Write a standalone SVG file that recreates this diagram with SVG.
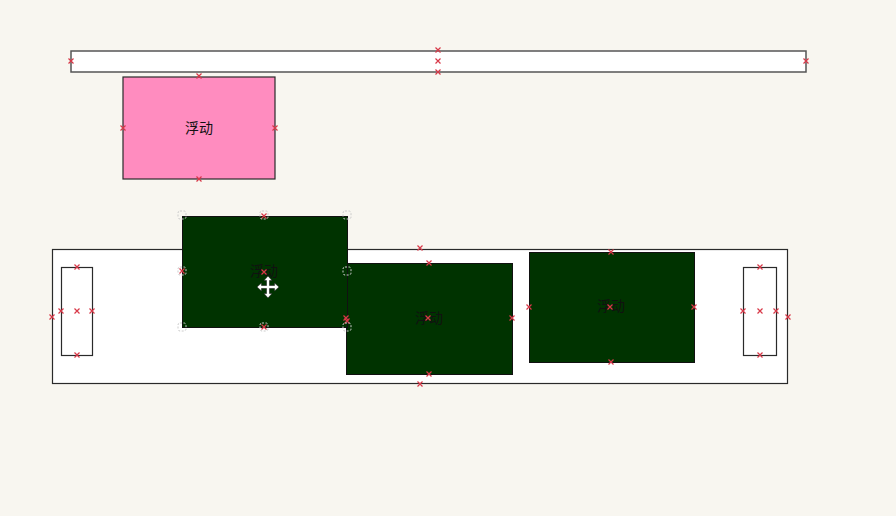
<svg xmlns="http://www.w3.org/2000/svg" width="896" height="516" viewBox="0 0 896 516">
<defs>
<style>
.bar{fill:#ffffff;stroke:#555555;stroke-width:1.5}
.frame{fill:#ffffff;stroke:#2a2a2a;stroke-width:1.2}
.pink{fill:#ff8cbf;stroke:#2a2a2a;stroke-width:1.2}
.green{fill:#003300;stroke:#111111;stroke-width:1}
.lbl{font-family:"Noto Sans CJK SC","Noto Sans",sans-serif;font-size:14px;fill:#111111;text-anchor:middle;dominant-baseline:central}
.hdl{fill:none;stroke:#cccccc;stroke-width:1;stroke-dasharray:2 1.5}
.mk{stroke:#d83848;stroke-width:1.2;fill:none}
</style>
<path id="x" d="M-2.5,-2.5L2.5,2.5M-2.5,2.5L2.5,-2.5" class="mk"/>
<rect id="h" x="-4" y="-4" width="8" height="8" rx="2" class="hdl"/>
</defs>
<rect width="896" height="516" fill="#f8f6f0"/>
<g id="topbar">
<rect x="71" y="51" width="735" height="21" class="bar"/>
</g>
<g id="pink">
<rect x="123" y="77" width="152" height="102" class="pink"/>
<text x="199" y="127" class="lbl">浮动</text>
</g>
<g id="container">
<rect x="52.5" y="249.5" width="735" height="134" class="frame"/>
</g>
<g id="leftslot">
<rect x="61.5" y="267.5" width="31" height="88" class="frame"/>
</g>
<g id="rightslot">
<rect x="743.5" y="267.5" width="33" height="88" class="frame"/>
</g>
<g id="box3">
<rect x="529.5" y="252.5" width="165" height="110" class="green"/>
<text x="611" y="305" class="lbl">浮动</text>
</g>
<g id="box2">
<rect x="346.5" y="263.5" width="166" height="111" class="green"/>
<text x="429" y="317" class="lbl">浮动</text>
</g>
<g id="box1">
<rect x="182.5" y="216.5" width="165" height="111" class="green"/>
<text x="264" y="270" class="lbl">浮动</text>
</g>
<g id="markers">
<use href="#x" x="71" y="61"/><use href="#x" x="806" y="61"/>
<use href="#x" x="438" y="50"/><use href="#x" x="438" y="61"/><use href="#x" x="438" y="72"/>
<use href="#x" x="199" y="76"/><use href="#x" x="199" y="179"/><use href="#x" x="123" y="128"/><use href="#x" x="275" y="128"/>
<use href="#x" x="420" y="248"/><use href="#x" x="420" y="384"/><use href="#x" x="52" y="317"/><use href="#x" x="788" y="317"/>
<use href="#x" x="77" y="267"/><use href="#x" x="77" y="355"/><use href="#x" x="61" y="311"/><use href="#x" x="77" y="311"/><use href="#x" x="92" y="311"/>
<use href="#x" x="760" y="267"/><use href="#x" x="760" y="355"/><use href="#x" x="743" y="311"/><use href="#x" x="760" y="311"/><use href="#x" x="776" y="311"/>
<use href="#x" x="429" y="263"/><use href="#x" x="429" y="374"/><use href="#x" x="346" y="318"/><use href="#x" x="512" y="318"/><use href="#x" x="428" y="318"/>
<use href="#x" x="611" y="252"/><use href="#x" x="611" y="362"/><use href="#x" x="529" y="307"/><use href="#x" x="694" y="307"/><use href="#x" x="610" y="307"/>
<use href="#x" x="264" y="216"/><use href="#x" x="264" y="327"/><use href="#x" x="182" y="271"/><use href="#x" x="264" y="272"/><use href="#x" x="347" y="321"/>
</g>
<g id="selection">
<use href="#h" x="182" y="215"/><use href="#h" x="264" y="215"/><use href="#h" x="347" y="215"/>
<use href="#h" x="182" y="271"/><use href="#h" x="347" y="271"/>
<use href="#h" x="182" y="327"/><use href="#h" x="264" y="327"/><use href="#h" x="347" y="327"/>
</g>
<g id="cursor" transform="translate(268,287)">
<path d="M0,-11L-4,-6.5H-1.5V-1.5H-6.5V-4L-11,0L-6.5,4V1.5H-1.5V6.5H-4L0,11L4,6.5H1.5V1.5H6.5V4L11,0L6.5,-4V-1.5H1.5V-6.5H4Z" fill="#ffffff" stroke="#222222" stroke-width="0.6"/>
</g>
</svg>
